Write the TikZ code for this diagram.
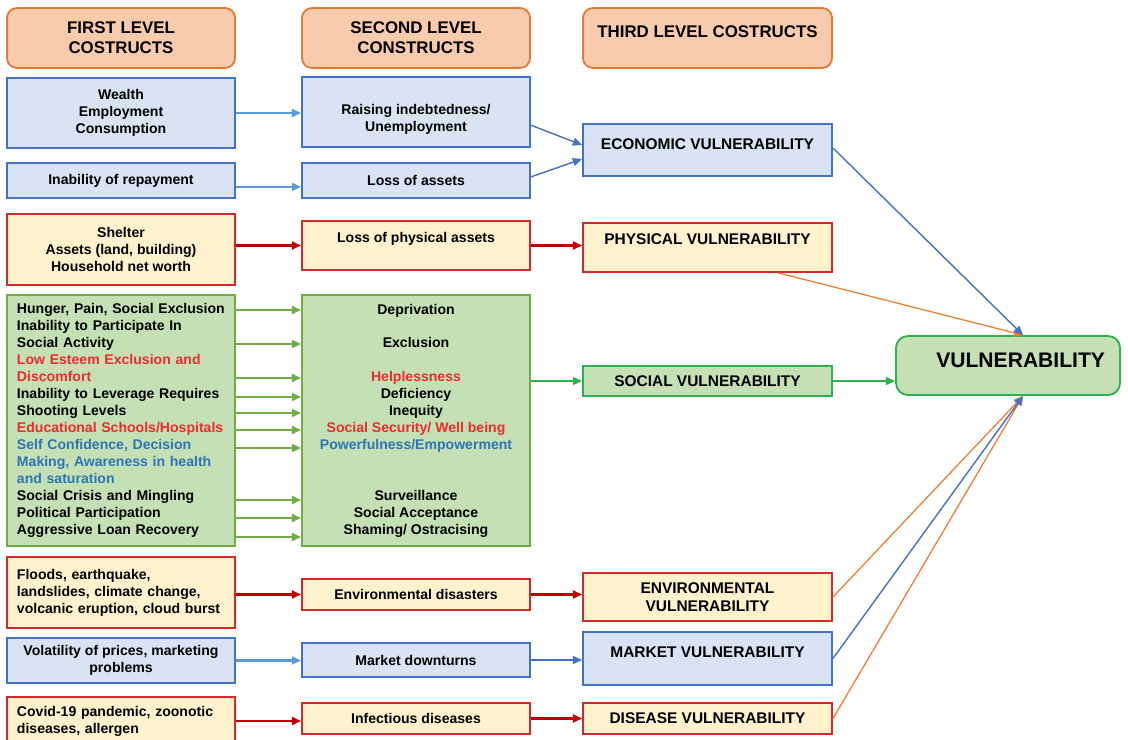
\documentclass[tikz,border=0pt]{standalone}
\usepackage{fontspec}
\setmainfont{Liberation Sans}
\usetikzlibrary{positioning,arrows.meta}
\definecolor{hdfill}{HTML}{F8CBAD}
\definecolor{hdline}{HTML}{E57A35}
\definecolor{blufill}{HTML}{DAE3F3}
\definecolor{bluline}{HTML}{4472C4}
\definecolor{lblu}{HTML}{5B9BD5}
\definecolor{yelfill}{HTML}{FFF2CC}
\definecolor{redline}{HTML}{D42A2A}
\definecolor{dred}{HTML}{C00000}
\definecolor{grnfill}{HTML}{C5E0B4}
\definecolor{grnline}{HTML}{70AD47}
\definecolor{brgrn}{HTML}{2DB04E}
\definecolor{orng}{HTML}{ED7D31}
\definecolor{txtred}{HTML}{EE2C2C}
\definecolor{txtblue}{HTML}{2E75B6}

\begin{document}
\begin{tikzpicture}[x=0.025cm, y=-0.025cm, >={Triangle[length=2.3mm,width=2mm]},
    box/.style={rectangle, draw, line width=1.3pt, align=center, inner sep=0pt, font=\bfseries\fontsize{10}{12.05}\selectfont},
    head/.style={box, draw=hdline, fill=hdfill, rounded corners=0.25cm, minimum height=1.5cm, font=\bfseries\fontsize{12}{14.2}\selectfont},
    blubox/.style={box, draw=bluline, fill=blufill},
    yelbox/.style={box, draw=redline, fill=yelfill},
    grnbox/.style={box, draw=grnline, fill=grnfill},
    cell/.style={minimum width=5.7cm, minimum height=#1},
    third/.style={minimum width=6.225cm, minimum height=#1, font=\bfseries\fontsize{11}{13}\selectfont},
    lft/.style={align=left, text width=5.2cm, inner xsep=0.25cm},
    lbarr/.style={->, draw=lblu, fill=lblu, line width=1.5pt},
    dbarr/.style={->, draw=bluline, fill=bluline, line width=1pt},
    rdarr/.style={->, draw=dred, fill=dred, line width=1.5pt},
    gnarr/.style={->, draw=grnline, fill=grnline, line width=1.5pt},
    bgarr/.style={->, draw=brgrn, fill=brgrn, line width=1.2pt},
    orarr/.style={->, draw=orng, fill=orng, line width=0.9pt}]
\useasboundingbox (0,0) rectangle (1128,740);

\node[head, minimum width=5.7cm] (hone) at (121,38) {FIRST LEVEL\\COSTRUCTS};
\node[head, minimum width=5.7cm] (htwo) at (416,38) {SECOND LEVEL\\CONSTRUCTS};
\node[head, minimum width=6.225cm, text depth=8.5pt] (hthree) at (707.5,38) {THIRD LEVEL COSTRUCTS};

\node[blubox, cell=1.75cm] (wealth) at (121,113) {Wealth\\Employment\\Consumption};
\node[blubox, cell=1.75cm, text height=30pt] (debt) at (416,112) {Raising indebtedness/\\Unemployment};
\node[blubox, cell=0.875cm] (repay) at (121,180.5) {Inability of repayment};
\node[blubox, cell=0.875cm] (loss) at (416,180.5) {Loss of assets};
\node[blubox, third=1.3cm, text depth=8.5pt] (econ) at (707.5,150) {ECONOMIC VULNERABILITY};

\node[yelbox, cell=1.775cm] (shelter) at (121,249.5) {Shelter\\Assets (land, building)\\Household net worth};
\node[yelbox, cell=1.225cm, text depth=12pt] (physloss) at (416,245.5) {Loss of physical assets};
\node[yelbox, third=1.225cm, text depth=12pt] (phys) at (707.5,247.5) {PHYSICAL VULNERABILITY};

\node[grnbox, cell=6.275cm, lft] (hunger) at (121,420.5) {Hunger, Pain, Social Exclusion\\
  Inability to Participate In\\
  Social Activity\\
  \textcolor{txtred}{Low Esteem Exclusion and}\\
  \textcolor{txtred}{Discomfort}\\
  Inability to Leverage Requires\\
  Shooting Levels\\
  \textcolor{txtred}{Educational Schools/Hospitals}\\
  \textcolor{txtblue}{Self Confidence, Decision}\\
  \textcolor{txtblue}{Making, Awareness in health}\\
  \textcolor{txtblue}{and saturation}\\
  Social Crisis and Mingling\\
  Political Participation\\
  Aggressive Loan Recovery};
\node[grnbox, cell=6.275cm] (depriv) at (416,420.5) {Deprivation\\[12pt]
  Exclusion\\[12pt]
  \textcolor{txtred}{Helplessness}\\
  Deficiency\\
  Inequity\\
  \textcolor{txtred}{Social Security/ Well being}\\
  \textcolor{txtblue}{Powerfulness/Empowerment}\\[24pt]
  Surveillance\\
  Social Acceptance\\
  Shaming/ Ostracising};
\node[grnbox, third=0.75cm, draw=brgrn] (social) at (707.5,381) {SOCIAL VULNERABILITY};

\node[yelbox, cell=1.775cm, lft] (floods) at (121,592.5) {Floods, earthquake,\\landslides, climate change,\\volcanic eruption, cloud burst};
\node[yelbox, cell=0.775cm] (envdis) at (416,594.5) {Environmental disasters};
\node[yelbox, third=1.2cm] (env) at (707.5,597) {ENVIRONMENTAL\\VULNERABILITY};

\node[blubox, cell=1.125cm] (prices) at (121,660.5) {Volatility of prices, marketing\\problems};
\node[blubox, cell=0.85cm] (downturn) at (416,660) {Market downturns};
\node[blubox, third=1.325cm, text depth=9.2pt] (market) at (707.5,658.5) {MARKET VULNERABILITY};

\node[yelbox, cell=1.2cm, lft] (covid) at (121,721) {Covid-19 pandemic, zoonotic\\diseases, allergen};
\node[yelbox, cell=0.775cm] (infect) at (416,718.5) {Infectious diseases};
\node[yelbox, third=0.775cm] (disease) at (707.5,718.5) {DISEASE VULNERABILITY};

\node[box, draw=brgrn, fill=grnfill, rounded corners=0.3cm, minimum width=5.6cm, minimum height=1.475cm,
  text width=4.85cm, align=right, inner xsep=0.375cm, text depth=7.5pt,
  font=\bfseries\fontsize{15}{18}\selectfont] (vuln) at (1008,365.5) {VULNERABILITY};

\draw[lbarr] (wealth.east) -- (wealth.east -| debt.west);
\draw[lbarr] ([yshift=-0.16cm]repay.east) -- ([yshift=-0.16cm]loss.west);
\draw[dbarr] ([yshift=-0.33cm]debt.east) -- ([yshift=0.125cm]econ.west);
\draw[dbarr] ([yshift=0.09cm]loss.east) -- ([yshift=-0.225cm]econ.west);
\draw[rdarr] (shelter.east |- physloss.west) -- (physloss.west);
\draw[rdarr] (physloss.east) -- (physloss.east -| phys.west);
\foreach \y in {310,344,378,397,413,430,448,500,518,537}
    \draw[gnarr] (hunger.east |- 0,\y) -- (depriv.west |- 0,\y);
\draw[bgarr] (depriv.east |- social.west) -- (social.west);
\draw[bgarr] (social.east) -- (social.east -| vuln.west);
\draw[rdarr] (floods.east |- envdis.west) -- (envdis.west);
\draw[rdarr] (envdis.east) -- (envdis.east -| env.west);
\draw[lbarr] (prices.east) -- (prices.east -| downturn.west);
\draw[dbarr] (downturn.east) -- (downturn.east -| market.west);
\draw[rdarr] (covid.east) -- (covid.east -| infect.west);
\draw[rdarr] (infect.east) -- (infect.east -| disease.west);

\coordinate (vtop) at ([xshift=0.375cm]vuln.north);
\coordinate (vbot) at ([xshift=0.375cm]vuln.south);
\draw[orarr] ([xshift=1.77cm]phys.south) -- (vtop);
\draw[dbarr] ([yshift=0.05cm]econ.east) -- (vtop);
\draw[orarr] (env.east) -- (vbot);
\draw[orarr] (disease.east) -- (vbot);
\draw[dbarr] (market.east) -- (vbot);
\end{tikzpicture}
\end{document}
